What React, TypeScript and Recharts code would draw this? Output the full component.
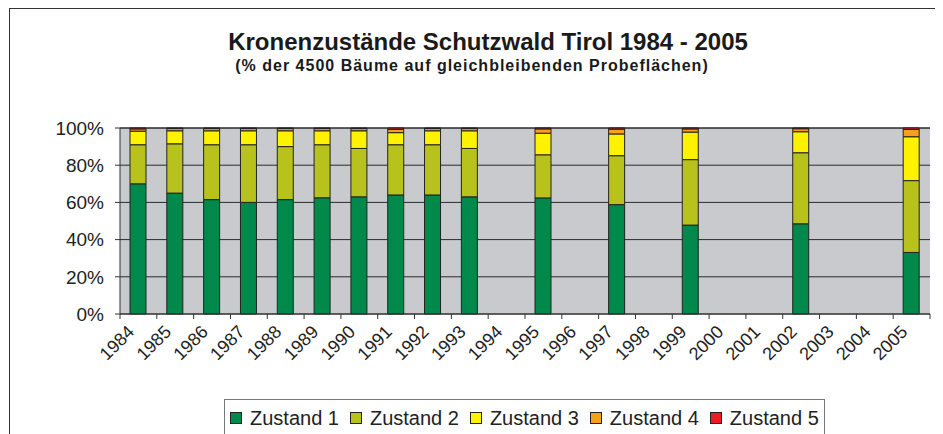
import { BarChart, Bar, XAxis, YAxis, CartesianGrid } from "recharts";

const YEARS = [
  "1984", "1985", "1986", "1987", "1988", "1989", "1990", "1991", "1992", "1993", "1994",
  "1995", "1996", "1997", "1998", "1999", "2000", "2001", "2002", "2003", "2004", "2005",
];

// % of trees per crown condition class, null = no survey that year
const ZUSTAND_1 = [70, 65, 61.5, 60, 61.5, 62.5, 63, 64, 64, 63, null, 62.4, null, 58.8, null, 47.8, null, null, 48.5, null, null, 33.1];
const ZUSTAND_2 = [21, 26.5, 29.5, 31, 28.5, 28.5, 26, 27, 27, 26, null, 23.2, null, 26.3, null, 35.2, null, null, 38.2, null, null, 38.6];
const ZUSTAND_3 = [7.3, 7, 7.5, 7.5, 8.5, 7.5, 9.5, 6.5, 7.5, 9.5, null, 11.6, null, 11.7, null, 14.8, null, null, 11.3, null, null, 23.6];
const ZUSTAND_4 = [1.2, 1.2, 1.2, 1.2, 1.2, 1.2, 1.2, 1.8, 1.2, 1.2, null, 2.3, null, 2.6, null, 1.7, null, null, 1.6, null, null, 3.9];
const ZUSTAND_5 = [0.5, 0.3, 0.3, 0.3, 0.3, 0.3, 0.3, 0.7, 0.3, 0.3, null, 0.5, null, 0.6, null, 0.5, null, null, 0.4, null, null, 0.8];

const Y_TICKS = [0, 20, 40, 60, 80, 100];

const SERIES = [
  { key: "z1", name: "Zustand 1", color: "#00894a", values: ZUSTAND_1 },
  { key: "z2", name: "Zustand 2", color: "#b8c21c", values: ZUSTAND_2 },
  { key: "z3", name: "Zustand 3", color: "#fff200", values: ZUSTAND_3 },
  { key: "z4", name: "Zustand 4", color: "#f6a01c", values: ZUSTAND_4 },
  { key: "z5", name: "Zustand 5", color: "#ec1c24", values: ZUSTAND_5 },
];

const data = YEARS.map((year, i) => {
  const row: Record<string, any> = { year };
  SERIES.forEach((s) => (row[s.key] = s.values[i]));
  return row;
});

const FONT = '"Liberation Sans", Arial, sans-serif';
const CHART_W = 935;
const CHART_H = 426;
const MARGIN = { top: 120, right: 13, bottom: 60, left: 0 };
const Y_AXIS_W = 112;
const BAND = (CHART_W - MARGIN.left - MARGIN.right - Y_AXIS_W) / YEARS.length;

function YearTick(props: any) {
  const { x, y, payload, index } = props;
  const tx = x - 3;
  const ty = y + 19;
  return (
    <g>
      <line x1={x - BAND / 2} x2={x - BAND / 2} y1={y} y2={y + 5} stroke="#333" />
      {index === YEARS.length - 1 && (
        <line x1={x + BAND / 2} x2={x + BAND / 2} y1={y} y2={y + 5} stroke="#333" />
      )}
      <text
        x={tx}
        y={ty}
        transform={`rotate(-45, ${tx}, ${ty})`}
        textAnchor="end"
        fontSize={18}
        fill="#222"
        fontFamily={FONT}
      >
        {payload.value}
      </text>
    </g>
  );
}

export default function App() {
  return (
    <div style={{ position: "relative", width: CHART_W, height: CHART_H, overflow: "hidden", fontFamily: FONT, background: "#fff" }}>
      <div style={{ position: "absolute", left: 1, top: 0, width: 1200, height: 1200, border: "1px solid #333" }} />

      <div style={{ position: "absolute", left: 480, top: 22, transform: "translateX(-50%)", whiteSpace: "nowrap", fontSize: 24, lineHeight: "24px", fontWeight: "bold", color: "#1a1a1a" }}>
        Kronenzustände Schutzwald Tirol 1984 - 2005
      </div>
      <div style={{ position: "absolute", left: 464, top: 50, transform: "translateX(-50%)", whiteSpace: "nowrap", fontSize: 16, lineHeight: "16px", fontWeight: "bold", letterSpacing: 1, color: "#1a1a1a" }}>
        (% der 4500 Bäume auf gleichbleibenden Probeflächen)
      </div>

      <div style={{ position: "absolute", left: 0, top: 0 }}>
        <BarChart width={CHART_W} height={CHART_H} data={data} margin={MARGIN} barSize={16}>
          <CartesianGrid vertical={false} fill="#c9cacd" stroke="#2a2a2a" />
          <XAxis
            dataKey="year"
            interval={0}
            height={60}
            tickSize={0}
            tickMargin={0}
            tickLine={false}
            axisLine={{ stroke: "#333" }}
            tick={<YearTick />}
          />
          <YAxis
            domain={[0, 100]}
            ticks={Y_TICKS}
            width={Y_AXIS_W}
            tickSize={5}
            tickMargin={11}
            tickFormatter={(v) => `${v}%`}
            axisLine={{ stroke: "#333" }}
            tickLine={{ stroke: "#333" }}
            tick={{ fontSize: 19, fill: "#222", fontFamily: FONT }}
          />
          <YAxis yAxisId="edge" orientation="right" width={0} tick={false} tickLine={false} axisLine={{ stroke: "#9a9a9a" }} />
          {SERIES.map((s) => (
            <Bar
              key={s.key}
              dataKey={s.key}
              name={s.name}
              stackId="a"
              fill={s.color}
              stroke="#222"
              strokeWidth={1}
              isAnimationActive={false}
            />
          ))}
        </BarChart>
      </div>

      <div style={{ position: "absolute", left: 216, top: 391, width: 601, height: 80, border: "1px solid #777", boxSizing: "border-box", display: "flex", alignItems: "flex-start", paddingLeft: 5, paddingTop: 6 }}>
        {SERIES.map((s, i) => (
          <div key={s.key} style={{ display: "flex", alignItems: "center", marginRight: i < SERIES.length - 1 ? 11 : 0 }}>
            <span style={{ width: 12, height: 12, boxSizing: "border-box", background: s.color, border: "1px solid #222", marginRight: 8 }} />
            <span style={{ fontSize: 20, lineHeight: "24px", color: "#222", whiteSpace: "nowrap" }}>{s.name}</span>
          </div>
        ))}
      </div>
    </div>
  );
}
